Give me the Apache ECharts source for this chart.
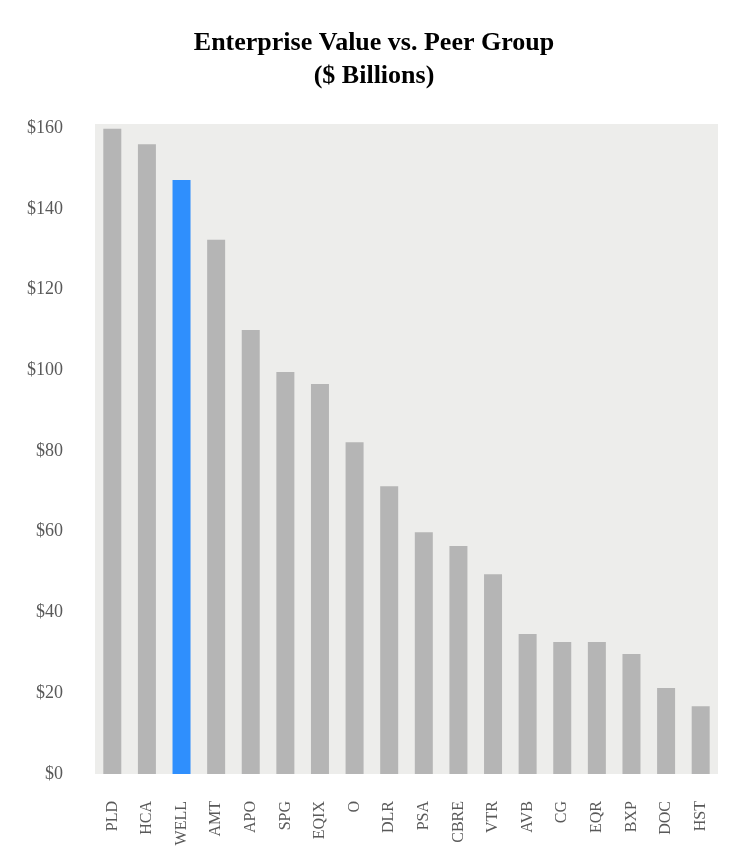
<!DOCTYPE html>
<html>
<head>
<meta charset="utf-8">
<script src="https://cdn.jsdelivr.net/npm/echarts@6/dist/echarts.min.js"></script>
<style>
  html, body { margin: 0; padding: 0; background: #fff; }
  #chart { width: 748px; height: 864px; }
</style>
</head>
<body>
<div id="chart"></div>
<script>
const companies = ['PLD', 'HCA', 'WELL', 'AMT', 'APO', 'SPG', 'EQIX', 'O', 'DLR', 'PSA',
  'CBRE', 'VTR', 'AVB', 'CG', 'EQR', 'BXP', 'DOC', 'HST'];
const enterpriseValue = [159.8, 156.0, 147.1, 132.3, 110.0, 99.6, 96.6, 82.2, 71.3, 59.9,
  56.5, 49.5, 34.7, 32.7, 32.7, 29.7, 21.3, 16.8];
const highlight = 'WELL';

const myChart = echarts.init(document.getElementById('chart'));

myChart.setOption({
  animation: false,
  title: {
    text: 'Enterprise Value vs. Peer Group\n($ Billions)',
    left: 'center',
    top: 22,
    textStyle: {
      fontFamily: 'Liberation Serif',
      fontWeight: 'bold',
      fontSize: 26,
      lineHeight: 33,
      color: '#000'
    }
  },
  grid: {
    left: 95,
    right: 30,
    top: 124,
    bottom: 90,
    show: true,
    backgroundColor: '#ededeb',
    borderWidth: 0
  },
  xAxis: {
    type: 'category',
    data: companies,
    axisLine: { show: false },
    axisTick: { show: false },
    axisLabel: {
      rotate: 90,
      margin: 27,
      fontFamily: 'Liberation Serif',
      fontSize: 16,
      color: '#595959'
    }
  },
  yAxis: {
    type: 'value',
    min: 0,
    max: 161,
    interval: 20,
    splitLine: { show: false },
    axisLine: { show: false },
    axisTick: { show: false },
    axisLabel: {
      margin: 32,
      fontFamily: 'Liberation Serif',
      fontSize: 18,
      color: '#595959',
      formatter: v => (v % 20 === 0 ? '$' + v : '')
    }
  },
  series: [{
    type: 'bar',
    barWidth: '52%',
    data: enterpriseValue.map((v, i) => ({
      value: v,
      itemStyle: { color: companies[i] === highlight ? '#2f8ffd' : '#b5b5b5' }
    }))
  }]
});

window.addEventListener('resize', () => myChart.resize());
</script>
</body>
</html>
